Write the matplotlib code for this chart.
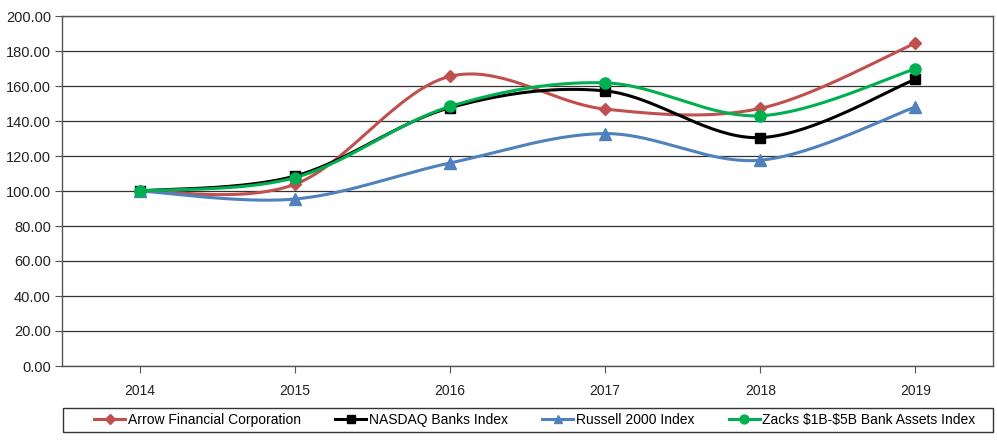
import matplotlib
matplotlib.use("Agg")
import matplotlib.pyplot as plt
from matplotlib.patches import Rectangle
import numpy as np

plt.rcParams["font.family"] = ["Liberation Sans", "DejaVu Sans"]

years = ["2014", "2015", "2016", "2017", "2018", "2019"]
arrow = [100.0, 103.8, 165.5, 146.8, 147.2, 184.5]
nasdaq = [100.0, 108.5, 147.6, 157.2, 130.5, 163.8]
russell = [100.0, 95.4, 116.0, 132.8, 117.6, 148.0]
zacks = [100.0, 107.6, 148.3, 161.8, 143.0, 169.8]

series = [
    ("Arrow Financial Corporation", arrow, "#C0504D", "D", 6),
    ("NASDAQ Banks Index", nasdaq, "#000000", "s", 6.5),
    ("Russell 2000 Index", russell, "#4F81BD", "^", 8),
    ("Zacks \\$1B-\\$5B Bank Assets Index", zacks, "#00B050", "o", 8),
]


def smooth(x, y, n=40):
    # excel-like smoothed line: catmull-rom bezier between points
    x = np.asarray(x, float)
    y = np.asarray(y, float)
    px = np.concatenate([[x[0]], x, [x[-1]]])
    py = np.concatenate([[y[0]], y, [y[-1]]])
    xs, ys = [], []
    t = np.linspace(0, 1, n)
    for i in range(1, len(px) - 2):
        p0 = np.array([px[i], py[i]])
        p3 = np.array([px[i + 1], py[i + 1]])
        p1 = p0 + (np.array([px[i + 1], py[i + 1]]) - np.array([px[i - 1], py[i - 1]])) / 6
        p2 = p3 - (np.array([px[i + 2], py[i + 2]]) - np.array([px[i], py[i]])) / 6
        b = ((1 - t) ** 3)[:, None] * p0 + (3 * (1 - t) ** 2 * t)[:, None] * p1 \
            + (3 * (1 - t) * t ** 2)[:, None] * p2 + (t ** 3)[:, None] * p3
        xs.append(b[:, 0])
        ys.append(b[:, 1])
    return np.concatenate(xs), np.concatenate(ys)


fig = plt.figure(figsize=(9.97, 4.40), dpi=100)
ax = fig.add_axes([62 / 997, 1 - 366 / 440, 931 / 997, 350 / 440])

xpos = np.arange(len(years))
for name, vals, col, mk, ms in series:
    sx, sy = smooth(xpos, vals)
    ax.plot(sx, sy, color=col, lw=2.2, zorder=3)
    ax.plot(xpos, vals, ls="none", marker=mk, ms=ms, color=col, zorder=4)
    ax.plot([], [], color=col, lw=2.2, marker=mk, ms=ms * 0.8, label=name)

ax.set_xlim(-0.5, len(years) - 0.5)
ax.set_ylim(0, 200)
ax.set_yticks(np.arange(0, 201, 20))
ax.set_yticklabels(["%.2f" % v for v in np.arange(0, 201, 20)], fontsize=10.5, color="#222222")
ax.set_xticks(xpos)
ax.set_xticklabels(years, fontsize=10, color="#222222")
ax.yaxis.grid(True, color="#333333", lw=0.9)
ax.set_axisbelow(True)
for s in ax.spines.values():
    s.set_color("#555555")
    s.set_linewidth(1.0)
ax.tick_params(axis="y", length=5, color="#555555", pad=3)
ax.tick_params(axis="x", length=5, color="#555555", pad=8)

# legend box spans the full plot width, entries centred inside
fig.patches.append(Rectangle((63 / 997, 1 - 432 / 440), 930 / 997, 24 / 440,
                             transform=fig.transFigure, fill=False,
                             edgecolor="#333333", lw=1.0))
leg = fig.legend(loc="center", ncol=4, bbox_to_anchor=(535 / 997, 1 - 420 / 440),
                 frameon=False, fontsize=10,
                 handlelength=2.2, handletextpad=0.2, columnspacing=2.5)

fig.savefig("out.png", dpi=100)
